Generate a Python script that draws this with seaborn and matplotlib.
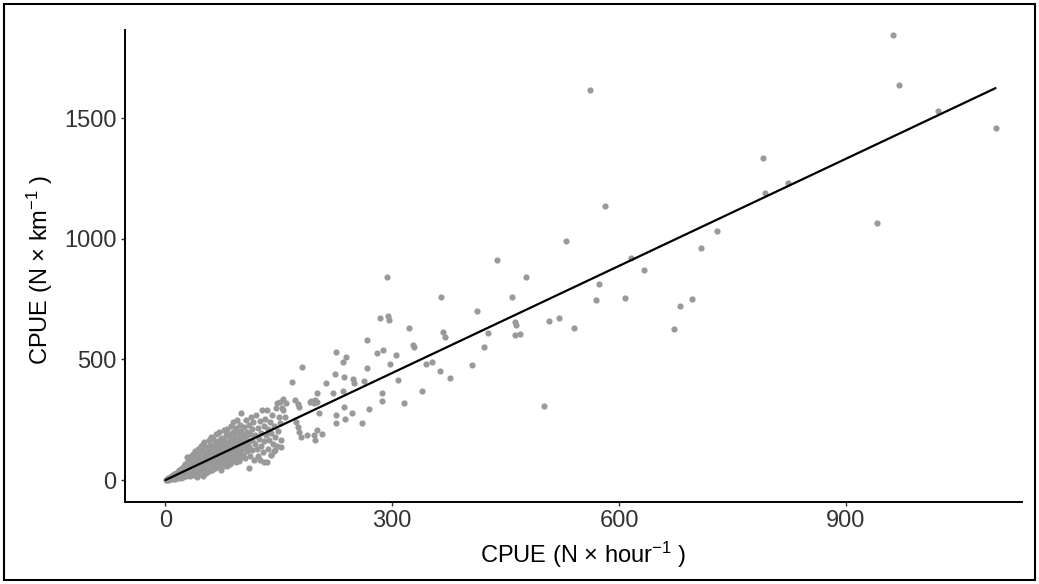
import matplotlib
matplotlib.use("Agg")
import matplotlib.pyplot as plt
import seaborn as sns
import pandas as pd
from matplotlib.patches import Rectangle

# ---- data ----
cpue_hour = [
    # dense cluster near origin
    1, 2, 2, 3, 3, 4, 4, 5, 5, 6, 6, 7, 7, 8, 8, 9, 9, 10, 10, 10,
    11, 11, 12, 12, 13, 13, 14, 14, 15, 15, 16, 16, 17, 17, 18, 18, 19, 19, 20, 20, 20,
    21, 21, 22, 22, 23, 23, 24, 24, 25, 25, 26, 26, 27, 27, 28, 28, 29, 29, 30, 30, 30,
    31, 31, 32, 32, 33, 33, 34, 34, 35, 35, 36, 36, 37, 37, 38, 38, 39, 39, 40, 40, 40,
    41, 41, 42, 42, 43, 43, 44, 44, 45, 45, 46, 46, 47, 47, 48, 48, 49, 49, 50, 50, 50,
    51, 51, 52, 52, 53, 53, 54, 54, 55, 55, 56, 56, 57, 57, 58, 58, 59, 59, 60, 60, 60,
    61, 61, 62, 62, 63, 63, 64, 64, 65, 65, 66, 66, 67, 67, 68, 68, 69, 69, 70, 70, 70,
    71, 71, 72, 72, 73, 73, 74, 74, 75, 75, 76, 76, 77, 77, 78, 78, 79, 79, 80, 80, 80,
    81, 81, 82, 82, 83, 83, 84, 84, 85, 85, 86, 86, 87, 87, 88, 88, 89, 89, 90, 90, 90,
    91, 91, 92, 92, 93, 93, 94, 94, 95, 95, 96, 96, 97, 97, 98, 98, 99, 99, 100, 100, 100,
    101, 102, 103, 103, 104, 105, 105, 106, 107, 108, 108, 109, 110, 110, 111, 112, 112, 113, 114, 115, 115,
    116, 117, 118, 119, 120, 121, 122, 123, 124, 125, 126, 127, 128, 129, 130, 130, 131, 132, 133, 134, 135,
    136, 137, 138, 139, 140, 141, 142, 143, 144, 145, 146, 147, 148, 149, 150,
    125, 134, 140, 145,
    # 150 - 540
    151, 156, 171, 175, 191, 198, 201, 154, 177, 153, 153, 155, 158, 151, 160,
    168, 180, 173, 175, 177, 179, 187, 196, 198, 207, 200, 192, 196, 203, 236,
    225, 247, 237, 269, 260, 226, 201, 222, 235, 286, 287, 316, 212, 224, 236,
    248, 250, 263, 308, 266, 225, 239, 235, 280, 288, 305, 267, 297, 344, 352,
    406, 363, 376, 339, 422, 327, 329, 284, 295, 296, 322, 367, 370, 426, 412,
    365, 293, 439, 477, 459, 462, 464, 463, 469, 501, 508, 520, 541,
    # upper range
    569, 574, 608, 616, 633, 673, 681, 697, 708, 729, 530, 581, 562, 791, 793,
    823, 941, 962, 970, 1022, 1098,
]
cpue_km = [
    2, 1, 4, 3, 6, 2, 7, 5, 9, 3, 11, 8, 14, 5, 12, 10, 17, 6, 14, 20,
    12, 25, 4, 18, 9, 22, 15, 30, 11, 24, 19, 35, 8, 27, 21, 40, 14, 31, 25, 45, 10,
    18, 35, 28, 52, 12, 40, 33, 58, 20, 45, 38, 65, 15, 48, 30, 72, 42, 95, 22, 55, 80,
    35, 62, 48, 88, 18, 70, 52, 100, 28, 60, 44, 110, 75, 20, 58, 95, 38, 120, 66, 30, 85,
    50, 105, 12, 72, 40, 130, 88, 60, 25, 115, 70, 48, 95, 140, 35, 78, 62, 125, 18, 90, 150,
    158, 55, 80, 110, 30, 70, 135, 95, 45, 82, 120, 62, 100, 165, 38, 88, 75, 145, 52, 110, 180,
    92, 130, 40, 70, 115, 170, 60, 98, 150, 80, 48, 125, 105, 190, 72, 140, 55, 95, 160, 118, 85,
    200, 65, 108, 135, 41, 90, 175, 122, 78, 150, 58, 100, 207, 130, 88, 165, 70, 115, 185, 140, 95,
    60, 125, 210, 105, 155, 80, 130, 190, 68, 112, 170, 145, 95, 225, 120, 78, 160, 200, 102, 135, 240,
    88, 180, 150, 118, 215, 75, 130, 165, 100, 250, 140, 195, 80, 120, 175, 230, 110, 150, 277, 205, 95,
    130, 185, 160, 105, 220, 140, 90, 250, 175, 120, 200, 155, 48, 230, 135, 190, 100, 260, 165, 125, 210,
    240, 83, 150, 185, 270, 130, 215, 100, 170, 245, 140, 195, 290, 115, 75, 225, 160, 255, 185, 290, 130,
    210, 165, 240, 105, 195, 270, 150, 225, 120, 180, 300, 319, 140, 205, 260,
    83, 76, 104, 124,
    325, 336, 332, 315, 325, 332, 325, 297, 301, 166, 138, 290, 263, 235, 318,
    405, 467, 242, 221, 200, 180, 187, 187, 166, 190, 207, 328, 318, 277, 304,
    270, 277, 253, 294, 235, 235, 362, 359, 370, 359, 328, 318, 401, 438, 426,
    419, 401, 412, 415, 466, 532, 509, 491, 525, 539, 517, 581, 480, 480, 491,
    477, 453, 422, 369, 553, 560, 550, 673, 680, 664, 632, 613, 592, 608, 701,
    760, 841, 912, 843, 760, 657, 643, 601, 606, 306, 658, 671, 632,
    748, 812, 756, 920, 871, 625, 720, 752, 961, 1031, 991, 1135, 1617, 1334, 1189,
    1231, 1067, 1844, 1637, 1530, 1461,
]

# fitted line end points
fit_x = [0, 1098]
fit_y = [0, 1625]

x_ticks = [0, 300, 600, 900]
y_ticks = [0, 500, 1000, 1500]
x_title = "CPUE (N × hour$^{-1}$ )"
y_title = "CPUE (N × km$^{-1}$ )"

df = pd.DataFrame({"hour": cpue_hour, "km": cpue_km})
fit = pd.DataFrame({"hour": fit_x, "km": fit_y})

# ---- style ----
sns.set_theme(style="ticks")
plt.rcParams["font.family"] = ["Liberation Sans", "DejaVu Sans"]
plt.rcParams["mathtext.fontset"] = "custom"
plt.rcParams["mathtext.rm"] = "Liberation Sans"
plt.rcParams["mathtext.it"] = "Liberation Sans"
plt.rcParams["mathtext.default"] = "rm"

fig = plt.figure(figsize=(10.39, 5.84), dpi=100)
ax = fig.add_axes([125 / 1039, 1 - 502 / 584, (1022 - 125) / 1039, (502 - 30) / 584])

sns.scatterplot(data=df, x="hour", y="km", ax=ax, color="#999999",
                s=20, linewidth=0, marker="o", zorder=2)
sns.lineplot(data=fit, x="hour", y="km", ax=ax, color="black",
             linewidth=1.6, zorder=3)

ax.set_xlim(-53.5, 1133)
ax.set_ylim(-91, 1866)
ax.set_xticks(x_ticks)
ax.set_yticks(y_ticks)
ax.set_xticklabels([str(t) for t in x_ticks])
ax.set_yticklabels([str(t) for t in y_ticks])

for s in ["top", "right"]:
    ax.spines[s].set_visible(False)
for s in ["left", "bottom"]:
    ax.spines[s].set_linewidth(1.4)
    ax.spines[s].set_color("black")

ax.tick_params(axis="both", length=3, width=1, color="#333333",
               labelsize=17, labelcolor="#333333", pad=3)

ax.set_xlabel("")
ax.set_ylabel("")
fig.text(583 / 1039, 1 - 555 / 584, x_title, ha="center", va="center",
         fontsize=17, color="black")
fig.text(40 / 1039, 1 - 270 / 584, y_title, ha="center", va="center",
         rotation=90, fontsize=17, color="black")

# outer frame of the picture
fig.patches.append(Rectangle((4 / 1039, 4 / 584), 1031 / 1039, 576 / 584,
                             transform=fig.transFigure, fill=False,
                             edgecolor="black", linewidth=1.5))

fig.savefig("out.png", dpi=100)
